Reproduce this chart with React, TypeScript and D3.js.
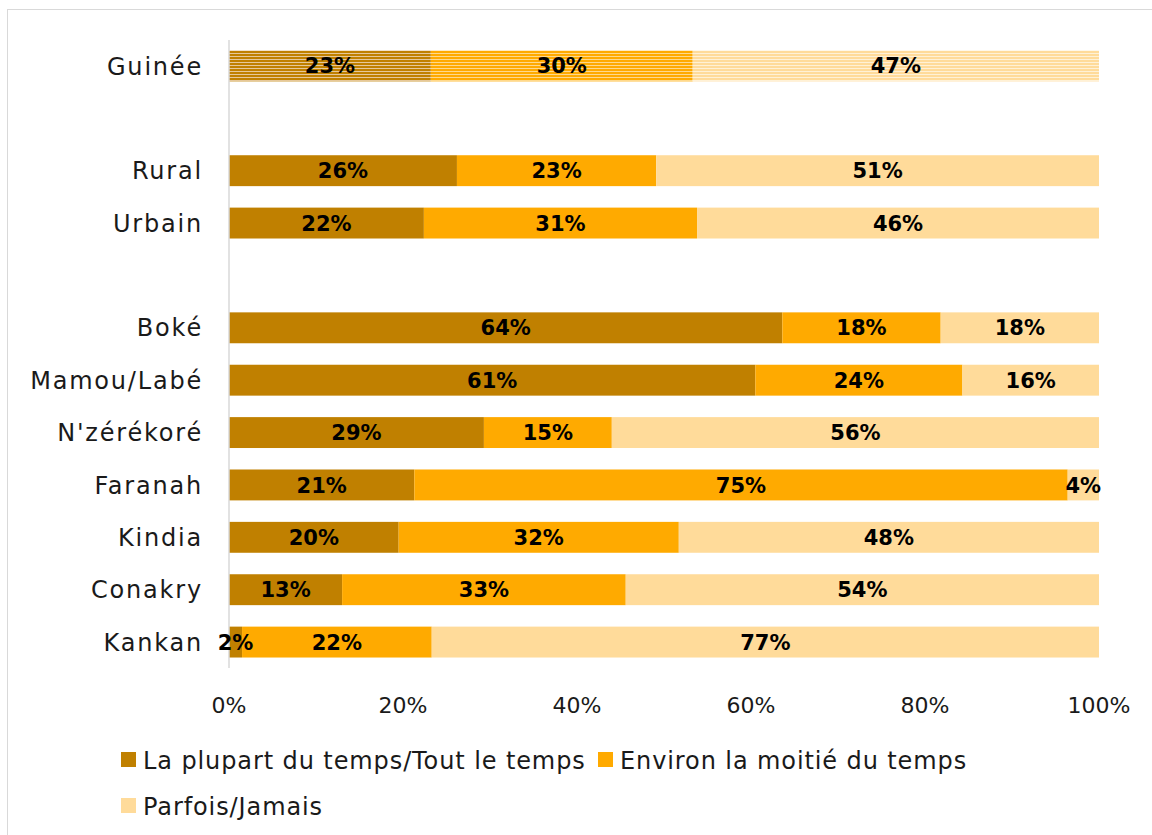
import * as d3 from "d3";
import { useRef, useEffect } from "react";

const width = 1152;
const height = 835;
const margin = { top: 40, right: 53, bottom: 167, left: 229 };

// rows of the chart, "" = empty spacer slot
const categories = ["Guinée", "", "Rural", "Urbain", "", "Boké", "Mamou/Labé", "N'zérékoré", "Faranah", "Kindia", "Conakry", "Kankan"];
const series = ["La plupart du temps/Tout le temps", "Environ la moitié du temps", "Parfois/Jamais"];
const colors = ["#C08000", "#FFAA00", "#FFDB9A"];
const lightColors = ["#E6C89A", "#FFD98C", "#FFF1D6"];

const mostly = [23.2, null, 26.2, 22.4, null, 63.6, 60.5, 29.3, 21.3, 19.5, 13.0, 1.5];
const half = [30.1, null, 22.9, 31.4, null, 18.2, 23.8, 14.7, 75.1, 32.2, 32.6, 21.8];
const never = [46.7, null, 50.9, 46.2, null, 18.2, 15.7, 56.0, 3.6, 48.3, 54.4, 76.7];

const ticks = [0, 0.2, 0.4, 0.6, 0.8, 1];

const font = "'DejaVu Sans', sans-serif";

export default function App() {
  const svgRef = useRef<SVGSVGElement>(null);

  useEffect(() => {
    const svg = d3.select(svgRef.current);
    svg.selectAll("*").remove();

    const rows = categories.map((c, i) => ({
      key: String(i), label: c,
      v0: mostly[i], v1: half[i], v2: never[i],
    })).filter(d => d.v0 !== null);

    const x = d3.scaleLinear().domain([0, 1]).range([margin.left, width - margin.right]);
    const y = d3.scaleBand()
      .domain(categories.map((_, i) => String(i)))
      .range([margin.top, height - margin.bottom])
      .paddingInner(0.41)
      .paddingOuter(0.2);

    // stripe patterns for the country total
    const defs = svg.append("defs");
    colors.forEach((c, i) => {
      const p = defs.append("pattern")
        .attr("id", `stripe${i}`)
        .attr("patternUnits", "userSpaceOnUse")
        .attr("width", 8).attr("height", 3);
      p.append("rect").attr("width", 8).attr("height", 3).attr("fill", lightColors[i]);
      p.append("rect").attr("width", 8).attr("height", 2).attr("fill", c);
    });

    svg.append("rect")
      .attr("x", 7.5).attr("y", 9.5)
      .attr("width", width).attr("height", height)
      .attr("fill", "white").attr("stroke", "#d9d9d9");

    const stack = d3.stack<any>().keys(["v0", "v1", "v2"])
      .offset(d3.stackOffsetExpand);
    const stacked = stack(rows as any);

    stacked.forEach((layer, si) => {
      const g = svg.append("g");
      g.selectAll("rect")
        .data(layer)
        .join("rect")
        .attr("x", d => x(d[0]))
        .attr("y", d => y(d.data.key)!)
        .attr("width", d => x(d[1]) - x(d[0]))
        .attr("height", y.bandwidth())
        .attr("fill", d => d.data.label === "Guinée" ? `url(#stripe${si})` : colors[si]);
    });

    // axis line
    svg.append("line")
      .attr("x1", x(0)).attr("x2", x(0))
      .attr("y1", margin.top).attr("y2", height - margin.bottom)
      .attr("stroke", "#d9d9d9").attr("stroke-width", 1.5);

    // data labels
    stacked.forEach((layer) => {
      const key = layer.key;
      svg.append("g").selectAll("text")
        .data(layer)
        .join("text")
        .attr("x", d => (x(d[0]) + x(d[1])) / 2)
        .attr("y", d => y(d.data.key)! + y.bandwidth() / 2)
        .attr("dy", "0.36em")
        .attr("text-anchor", "middle")
        .attr("font-family", font)
        .attr("font-weight", "bold")
        .attr("font-size", 21)
        .attr("fill", "#000")
        .text(d => `${Math.round(d.data[key])}%`);
    });

    // category labels
    svg.append("g").selectAll("text")
      .data(rows)
      .join("text")
      .attr("x", x(0) - 26)
      .attr("y", d => y(d.key)! + y.bandwidth() / 2)
      .attr("dy", "0.36em")
      .attr("text-anchor", "end")
      .attr("font-family", font)
      .attr("font-size", 24)
      .attr("letter-spacing", 1.8)
      .attr("fill", "#1a1a1a")
      .text(d => d.label);

    // x ticks
    svg.append("g").selectAll("text")
      .data(ticks)
      .join("text")
      .attr("x", d => x(d))
      .attr("y", 705)
      .attr("dy", "0.36em")
      .attr("text-anchor", "middle")
      .attr("font-family", font)
      .attr("font-size", 22)
      .attr("fill", "#1a1a1a")
      .text(d => d3.format(".0%")(d));

    // legend
    const legendPos = [[121, 760], [598, 760], [121, 806]];
    series.forEach((s, i) => {
      const [lx, ly] = legendPos[i];
      svg.append("rect")
        .attr("x", lx).attr("y", ly - 8)
        .attr("width", 15).attr("height", 15)
        .attr("fill", colors[i]);
      svg.append("text")
        .attr("x", lx + 22).attr("y", ly)
        .attr("dy", "0.36em")
        .attr("font-family", font)
        .attr("font-size", 24)
        .attr("letter-spacing", 0.9)
        .attr("fill", "#1a1a1a")
        .text(s);
    });
  }, []);

  return (
    <svg ref={svgRef} width={width} height={height}
      style={{ position: "absolute", left: 0, top: 0 }} />
  );
}
